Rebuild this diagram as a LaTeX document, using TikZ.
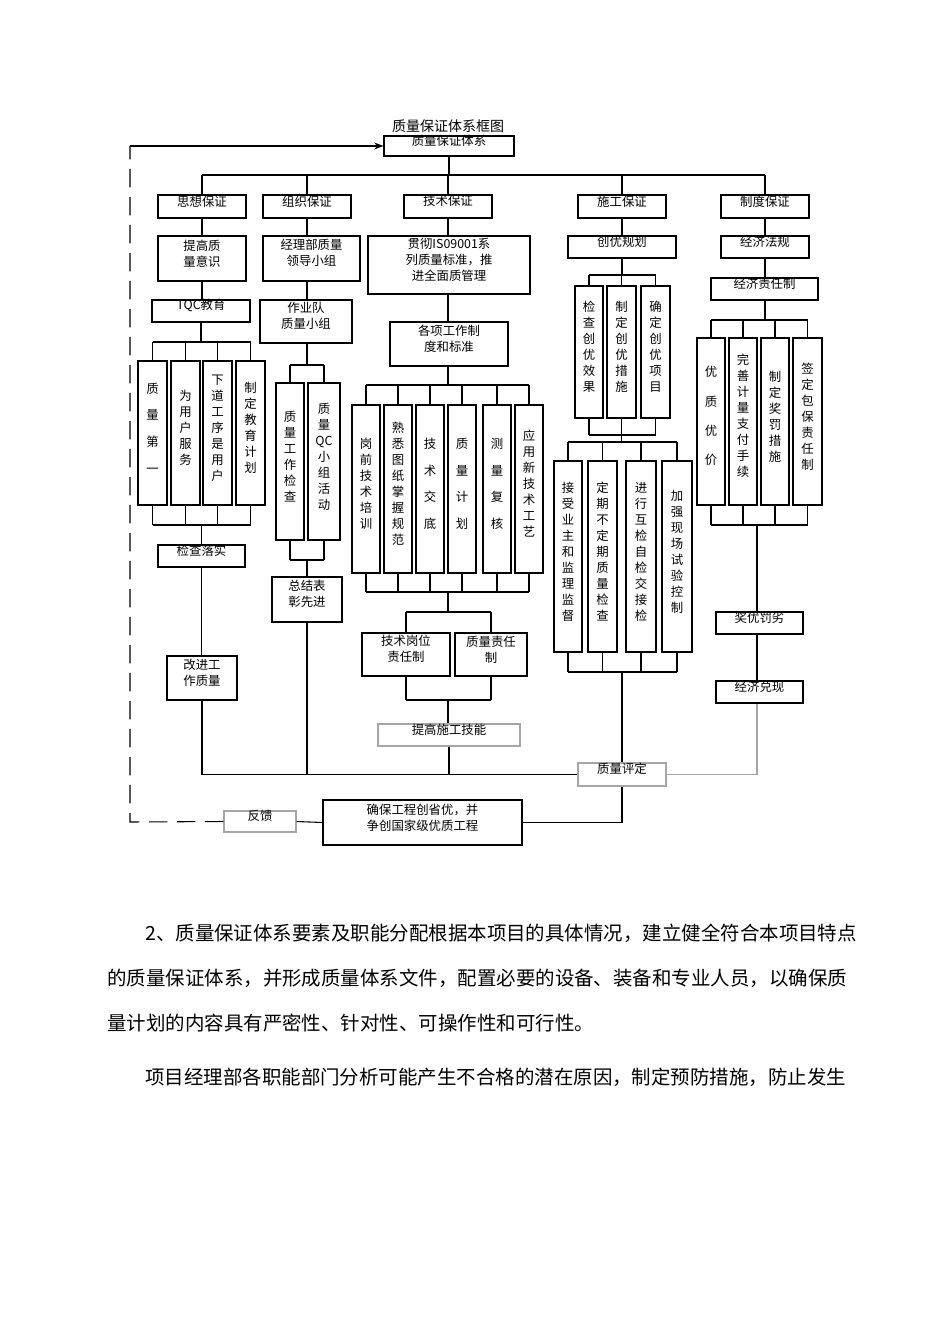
\documentclass[tikz,border=0pt]{standalone}
\usepackage{fontspec}
\setmainfont{Noto Sans CJK SC}
\usetikzlibrary{fit,arrows.meta}
\begin{document}
\begin{tikzpicture}[x=0.75pt,y=-0.75pt,
  box/.style={draw,line width=0.8pt,inner sep=0pt,font=\fontsize{9.3}{12}\selectfont,align=center},
  lt/.style={box,align=left},
  gb/.style={draw=black!35},
  ln/.style={line width=0.8pt},
  body/.style={anchor=base west,inner sep=0pt,font=\fontsize{14.6}{16}\selectfont}]
\def\bx[#1]#2#3#4#5#6#7{\node[box,#1,fit={(#3,#4)(#5,#6)}] (#2) {#7};}
\useasboundingbox[fill=white] (0,0) rectangle (950,1344);
\node[font=\fontsize{10.5}{12}\selectfont] (title) at (448,126) {质量保证体系框图};
\bx[]{top}{384}{136}{514}{156}{质量保证体系}
\bx[]{s1}{158}{195}{246}{218}{思想保证}
\bx[]{s2}{263}{195}{351}{218}{组织保证}
\bx[]{s3}{404}{195}{492}{218}{技术保证}
\bx[]{s4}{578}{195}{666}{218}{施工保证}
\bx[]{s5}{721}{195}{809}{218}{制度保证}
\coordinate (h1) at (0,175);
\draw[ln] (top.south) -- (top.south|-h1);
\draw[ln] (s1.north|-h1) -- (s5.north|-h1);
\foreach \s in {s1,s2,s3,s4,s5} \draw[ln] (\s.north) -- (\s.north|-h1);
% column 1
\bx[]{a1}{158}{236}{246}{281}{提高质\\量意识}
\bx[]{a2}{152}{300}{250}{322}{TQC教育}
\bx[]{q1}{138}{361}{167}{505}{质\\[8pt]量\\[8pt]第\\[8pt]一}
\bx[]{q2}{171}{361}{200}{505}{为\\用\\户\\服\\务}
\bx[]{q3}{203}{361}{232}{505}{下\\道\\工\\序\\是\\用\\户}
\bx[]{q4}{236}{361}{265}{505}{制\\定\\教\\育\\计\\划}
\bx[]{a3}{158}{545}{245}{567}{检查落实}
\bx[lt]{a4}{167}{656}{237}{700}{改进工\\作质量}
\draw[ln] (s1.south) -- (a1.north);
\draw[ln] (a1.south) -- (a1.south|-a2.north);
\coordinate (h2) at (0,342); \coordinate (h3) at (0,525);
\draw[ln] (a2.south) -- (a2.south|-h2);
\draw[ln] (q1.north|-h2) -- (q4.north|-h2);
\draw[ln] (q1.south|-h3) -- (q4.south|-h3);
\foreach \s in {q1,q2,q3,q4} {\draw[ln] (\s.north) -- (\s.north|-h2); \draw[ln] (\s.south) -- (\s.south|-h3);}
\draw[ln] (a3.north|-h3) -- (a3.north);
\draw[ln] (a3.south) -- (a3.south|-a4.north);
% column 2
\bx[lt]{b1}{263}{236}{360}{281}{经理部质量\\领导小组}
\bx[lt]{b2}{260}{300}{352}{343}{作业队\\质量小组}
\bx[]{r1}{276}{383}{304}{540}{质\\量\\工\\作\\检\\查}
\bx[]{r2}{308}{383}{340}{540}{质\\量\\QC\\小\\组\\活\\动}
\bx[]{b3}{272}{577}{342}{622}{总结表\\彰先进}
\draw[ln] (s2.south) -- (s2.south|-b1.north);
\draw[ln] (s2.south|-b1.south) -- (s2.south|-b2.north);
\coordinate (h4) at (0,365); \coordinate (h5) at (0,560);
\draw[ln] (s2.south|-b2.south) -- (s2.south|-h4);
\draw[ln] (r1.north|-h4) -- (r2.north|-h4);
\draw[ln] (r1.south|-h5) -- (r2.south|-h5);
\foreach \s in {r1,r2} {\draw[ln] (\s.north) -- (\s.north|-h4); \draw[ln] (\s.south) -- (\s.south|-h5);}
\draw[ln] (b3.north|-h5) -- (b3.north);
% column 3
\bx[lt]{c1}{368}{236}{530}{294}{贯彻IS09001系\\列质量标准，推\\进全面质管理}
\bx[lt]{c2}{390}{322}{508}{366}{各项工作制\\度和标准}
\bx[]{t1}{352}{405}{380}{573}{岗\\前\\技\\术\\培\\训}
\bx[]{t2}{384}{405}{412}{573}{熟\\悉\\图\\纸\\掌\\握\\规\\范}
\bx[]{t3}{416}{405}{444}{573}{技\\[8pt]术\\[8pt]交\\[8pt]底}
\bx[]{t4}{448}{405}{476}{573}{质\\[8pt]量\\[8pt]计\\[8pt]划}
\bx[]{t5}{483}{405}{511}{573}{测\\[8pt]量\\[8pt]复\\[8pt]核}
\bx[]{t6}{515}{405}{543}{573}{应\\用\\新\\技\\术\\工\\艺}
\bx[lt]{u1}{362}{633}{450}{676}{技术岗位\\责任制}
\bx[lt]{u2}{455}{633}{527}{676}{质量责任\\制}
\bx[gb]{c3}{378}{724}{520}{746}{提高施工技能}
\draw[ln] (s3.south) -- (s3.south|-c1.north);
\draw[ln] (s3.south|-c1.south) -- (s3.south|-c2.north);
\coordinate (h6) at (0,385); \coordinate (h7) at (0,592);
\coordinate (h8) at (0,612); \coordinate (h9) at (0,700);
\draw[ln] (s3.south|-c2.south) -- (s3.south|-h6);
\draw[ln] (t1.north|-h6) -- (t6.north|-h6);
\draw[ln] (t1.south|-h7) -- (t6.south|-h7);
\foreach \s in {t1,t2,t3,t4,t5,t6} {\draw[ln] (\s.north) -- (\s.north|-h6); \draw[ln] (\s.south) -- (\s.south|-h7);}
\draw[ln] (s3.south|-h7) -- (s3.south|-h8);
\draw[ln] (u1.north|-h8) -- (u2.north|-h8);
\draw[ln] (u1.south|-h9) -- (u2.south|-h9);
\foreach \s in {u1,u2} {\draw[ln] (\s.north) -- (\s.north|-h8); \draw[ln] (\s.south) -- (\s.south|-h9);}
\draw[ln] (s3.south|-h9) -- (s3.south|-c3.north);
% column 4
\bx[]{d1}{568}{236}{676}{258}{创优规划}
\bx[]{e1}{575}{286}{603}{418}{检\\查\\创\\优\\效\\果}
\bx[]{e2}{607}{286}{636}{418}{制\\定\\创\\优\\措\\施}
\bx[]{e3}{641}{286}{670}{418}{确\\定\\创\\优\\项\\目}
\bx[]{f1}{554}{461}{582}{652}{接\\受\\业\\主\\和\\监\\理\\监\\督}
\bx[]{f2}{588}{461}{617}{652}{定\\期\\不\\定\\期\\质\\量\\检\\查}
\bx[]{f3}{626}{461}{656}{652}{进\\行\\互\\检\\自\\检\\交\\接\\检}
\bx[]{f4}{662}{461}{692}{652}{加\\强\\现\\场\\试\\验\\控\\制}
\bx[gb]{pd}{578}{763}{666}{786}{质量评定}
\draw[ln] (s4.south) -- (s4.south|-d1.north);
\coordinate (h10) at (0,275); \coordinate (h11) at (0,435);
\coordinate (h12) at (0,442); \coordinate (h13) at (0,672);
\draw[ln] (s4.south|-d1.south) -- (s4.south|-h10);
\draw[ln] (e1.north|-h10) -- (e3.north|-h10);
\draw[ln] (e1.south|-h11) -- (e3.south|-h11);
\foreach \s in {e1,e2,e3} {\draw[ln] (\s.north) -- (\s.north|-h10); \draw[ln] (\s.south) -- (\s.south|-h11);}
\draw[ln] (e2.south|-h11) -- (e2.south|-h12);
\draw[ln] (f1.north|-h12) -- (f4.north|-h12);
\draw[ln] (f1.south|-h13) -- (f4.south|-h13);
\foreach \s in {f1,f2,f3,f4} {\draw[ln] (\s.north) -- (\s.north|-h12); \draw[ln] (\s.south) -- (\s.south|-h13);}
\draw[ln] (pd.north|-h13) -- (pd.north);
% column 5
\bx[]{m1}{721}{236}{809}{258}{经济法规}
\bx[]{m2}{711}{278}{818}{300}{经济责任制}
\bx[]{n1}{697}{338}{725}{505}{优\\[10pt]质\\[10pt]优\\[10pt]价}
\bx[]{n2}{729}{338}{757}{505}{完\\善\\计\\量\\支\\付\\手\\续}
\bx[]{n3}{761}{338}{789}{505}{制\\定\\奖\\罚\\措\\施}
\bx[]{n4}{793}{338}{822}{505}{签\\定\\包\\保\\责\\任\\制}
\bx[lt]{m3}{716}{612}{803}{634}{奖优罚劣}
\bx[lt]{m4}{716}{681}{803}{703}{经济兑现}
\draw[ln] (s5.south) -- (s5.south|-m1.north);
\draw[ln] (s5.south|-m1.south) -- (s5.south|-m2.north);
\coordinate (h14) at (0,320); \coordinate (h15) at (0,525);
\draw[ln] (s5.south|-m2.south) -- (s5.south|-h14);
\draw[ln] (n1.north|-h14) -- (n4.north|-h14);
\draw[ln] (n1.south|-h15) -- (n4.south|-h15);
\foreach \s in {n1,n2,n3,n4} {\draw[ln] (\s.north) -- (\s.north|-h14); \draw[ln] (\s.south) -- (\s.south|-h15);}
\coordinate (v5) at (757,0);
\draw[ln] (v5|-h15) -- (v5|-m3.north);
\draw[ln] (v5|-m3.south) -- (v5|-m4.north);
\draw[ln,black!35] (v5|-m4.south) |- (pd.east);
% bottom
\draw[ln] (a4.south) |- (pd.west);
\draw[ln] (b3.south) -- (b3.south|-pd.west);
\draw[ln] (c3.south) -- (c3.south|-pd.west);
\bx[lt]{g1}{323}{800}{522}{845}{确保工程创省优，并\\争创国家级优质工程}
\bx[gb]{fb}{224}{811}{296}{832}{反馈}
\draw[ln] (pd.south) |- (g1.east);
\draw[ln] (g1.west) -- (fb.east);
\coordinate (k1) at (130,822); \coordinate (k2) at (130,146);
\draw[ln,dash pattern=on 14pt off 7pt] (fb.west) -- (k1) -- (k2);
\draw[ln,-{Stealth[length=7pt]}] (k2) -- (top.west);
% body text
\node[body] at (145,940) {2、质量保证体系要素及职能分配根据本项目的具体情况，建立健全符合本项目特点};
\node[body] at (107,985) {的质量保证体系，并形成质量体系文件，配置必要的设备、装备和专业人员，以确保质};
\node[body] at (107,1030) {量计划的内容具有严密性、针对性、可操作性和可行性。};
\node[body] at (145,1084) {项目经理部各职能部门分析可能产生不合格的潜在原因，制定预防措施，防止发生};
\end{tikzpicture}
\end{document}
